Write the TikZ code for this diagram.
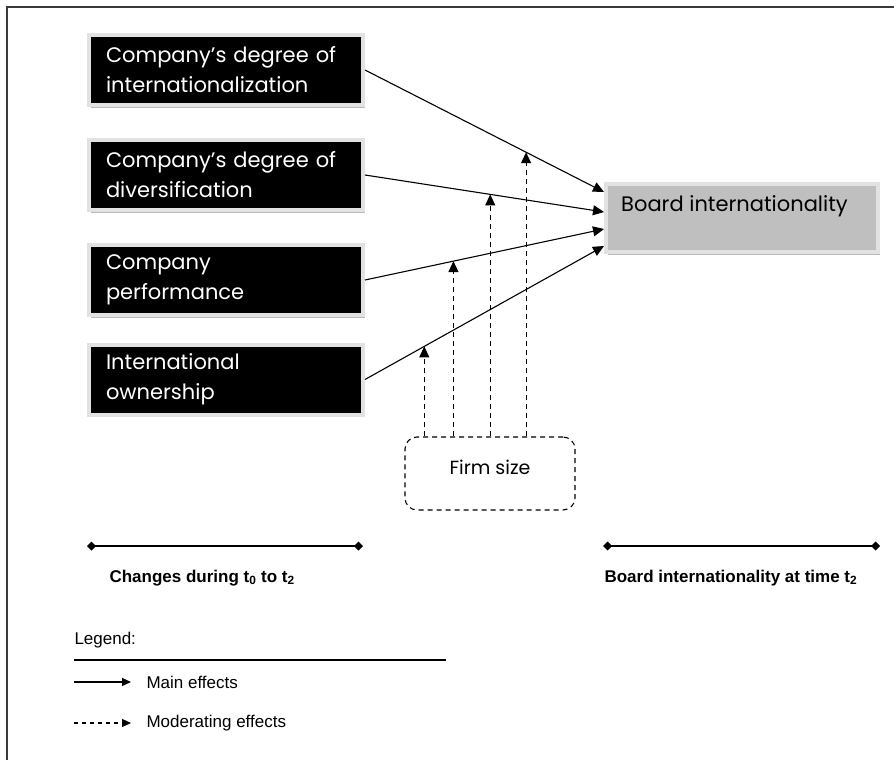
\documentclass[tikz,border=0pt]{standalone}
\usepackage{fontspec}
\setmainfont{Liberation Sans}
\newfontfamily\gothic{Poppins}
\usetikzlibrary{arrows.meta,shadows}
\definecolor{framec}{HTML}{E2E2E2}
\definecolor{boardc}{HTML}{BFBFBF}
\definecolor{edgec}{HTML}{3A3A3A}

\tikzset{
  varbox/.style={fill=black, draw=framec, line width=4pt, text=white,
    minimum width=274pt, minimum height=70pt, text width=240pt, inner xsep=17pt,
    align=left, font=\gothic\fontsize{21}{30}\selectfont,
    drop shadow={shadow xshift=1.5pt, shadow yshift=-2.5pt, fill=gray!55, opacity=1}},
  boardbox/.style={fill=boardc, draw=framec, line width=4pt,
    minimum width=272pt, minimum height=68pt,
    drop shadow={shadow xshift=1.5pt, shadow yshift=-2.5pt, fill=gray!55, opacity=1}},
  main/.style={-{Triangle[length=11pt,width=10pt]}, line width=1.1pt},
  moder/.style={-{Triangle[length=11pt,width=10pt]}, line width=1.1pt, dash pattern=on 5pt off 4pt},
  bar/.style={{Diamond[length=9pt,width=9pt]}-{Diamond[length=9pt,width=9pt]}, line width=1.1pt},
  barlabel/.style={anchor=west, font=\bfseries\fontsize{17}{19}\selectfont},
  legtext/.style={anchor=west, font=\fontsize{17}{19}\selectfont},
}

\begin{document}
\begin{tikzpicture}[x=1pt, y=-1pt]
  \useasboundingbox (0,0) rectangle (894,760);
  % outer frame (top and left only)
  \draw[edgec, line width=1.5pt] (7,760) -- (7,7) -- (894,7);

  % changes during t0 to t2
  \node[varbox] (intl) at (226,70) {Company’s degree of\\internationalization};
  \node[varbox] (divers) at (226,175) {Company’s degree of\\diversification};
  \node[varbox] (perf) at (226,280) {Company\\performance};
  \node[varbox] (owner) at (226,379.5) {International\\ownership};

  % outcome
  \node[boardbox] (board) at (742,218) {};
  \node[anchor=west, inner sep=0pt, font=\gothic\fontsize{21}{24}\selectfont]
    (boardtxt) at ([xshift=17pt, yshift=12pt]board.west) {Board internationality};

  % moderator
  \node[draw, dashed, dash pattern=on 5pt off 4pt, line width=1.1pt, rounded corners=12pt,
    minimum width=170pt, minimum height=73pt, font=\gothic\fontsize{19}{21}\selectfont]
    (firm) at (490,473.5) {\raisebox{12pt}{Firm size}};

  % main effects
  \draw[main] (intl.east) -- coordinate[pos=0.674] (m1) ([yshift=26pt]board.west);
  \draw[main] (divers.east) -- coordinate[pos=0.524] (m2) ([yshift=6pt]board.west);
  \draw[main] (perf.east) -- coordinate[pos=0.37] (m3) ([yshift=-11pt]board.west);
  \draw[main] (owner.east) -- coordinate[pos=0.248] (m4) ([yshift=-28pt]board.west);

  % moderating effects
  \foreach \m in {m1,m2,m3,m4}
    \draw[moder] (\m |- firm.north) -- (\m);

  % time bars
  \coordinate (chgL) at (87,546);
  \coordinate (chgR) at (363,546);
  \coordinate (brdL) at (603,546);
  \coordinate (brdR) at (880,546);
  \draw[bar] (chgL) -- (chgR);
  \draw[bar] (brdL) -- (brdR);
  \node[barlabel] (chglbl) at (106,578) {Changes during t\textsubscript{0} to t\textsubscript{2}};
  \node[barlabel] (brdlbl) at (601,578) {Board internationality at time t\textsubscript{2}};

  % legend
  \node[legtext] (legend) at (71,640) {Legend:};
  \coordinate (legL) at (74,660);
  \coordinate (legR) at (446,660);
  \draw[line width=1.1pt] (legL) -- (legR);
  \node[legtext] (mainlbl) at (143,682) {Main effects};
  \node[legtext] (moderlbl) at (143,723) {Moderating effects};
  \coordinate (mainS) at (74,682);
  \coordinate (moderS) at (74,723);
  \draw[main, -{Triangle[length=9pt,width=8pt]}] (mainS) -- ([xshift=-12pt]mainlbl.west);
  \draw[moder, -{Triangle[length=9pt,width=8pt]}, dash pattern=on 4pt off 4pt] (moderS) -- ([xshift=-12pt]moderlbl.west);
\end{tikzpicture}
\end{document}
